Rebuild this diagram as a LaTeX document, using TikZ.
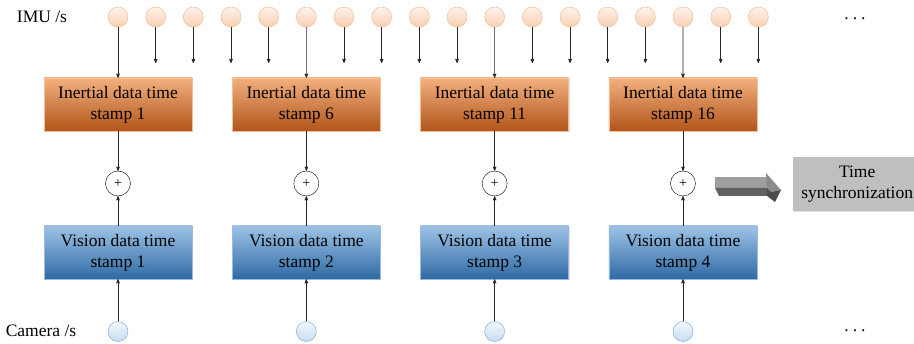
\documentclass[tikz,border=0pt]{standalone}
\usepackage{fontspec}
\setmainfont{Liberation Serif}
\usepackage{xcolor}
\usepackage{tikz}
\usetikzlibrary{arrows}
\usetikzlibrary{shadows}
\definecolor{imuline}{HTML}{F4B183}
\definecolor{imutop}{HTML}{FEF3EB}
\definecolor{imubot}{HTML}{F9CFB2}
\definecolor{camline}{HTML}{6FA3D8}
\definecolor{camtop}{HTML}{F2F7FC}
\definecolor{cambot}{HTML}{C6DCF1}
\definecolor{inline}{HTML}{F4C09A}
\definecolor{intop}{HTML}{F2B07E}
\definecolor{inbot}{HTML}{B2551B}
\definecolor{visline}{HTML}{9DB9DD}
\definecolor{vistop}{HTML}{9DC3E6}
\definecolor{visbot}{HTML}{2F6AA4}
\definecolor{syncfill}{HTML}{BFBFBF}
\tikzset{
    tnode/.style = {align=center, inner sep=0pt, text centered},
    imu/.style = {tnode, circle, draw=imuline, top color=imutop, bottom color=imubot, minimum size=20pt, thin},
    cam/.style = {tnode, circle, draw=camline, top color=camtop, bottom color=cambot, minimum size=20pt, thin},
    plus/.style = {tnode, circle, draw=black, minimum size=25pt, thin, font=\fontsize{14}{14}\selectfont},
    inertial/.style = {tnode, rectangle, draw=inline, top color=intop, bottom color=inbot, minimum width=148pt, minimum height=53pt, font=\fontsize{17.5}{21}\selectfont, drop shadow={shadow xshift=1pt, shadow yshift=-1pt, opacity=0.25}},
    vision/.style = {tnode, rectangle, draw=visline, top color=vistop, bottom color=visbot, minimum width=148pt, minimum height=53pt, font=\fontsize{17.5}{21}\selectfont, drop shadow={shadow xshift=1pt, shadow yshift=-1pt, opacity=0.25}},
    syncbox/.style = {tnode, rectangle, fill=syncfill, minimum width=128pt, minimum height=54pt, font=\fontsize{17.5}{21}\selectfont, drop shadow={shadow xshift=1pt, shadow yshift=-1pt, opacity=0.25}},
    lbl/.style = {tnode, font=\fontsize{17.5}{21}\selectfont},
    link/.style = {->, line width=0.6pt, black!85}
}

\begin{document}
\begin{tikzpicture}[>=stealth', x=1pt, y=-1pt]
    \useasboundingbox (0,0) rectangle (914,344);
    % IMU samples
    \foreach \i in {1,...,18}
        \node [imu] (imu\i) at ({118+37.67*(\i-1)},17) {};
    \foreach \i in {2,3,4,5,7,8,9,10,12,13,14,15,17,18} {
        \path (imu\i) ++(0,46) coordinate (imuend\i);
        \draw [link] (imu\i) -- (imuend\i);
    }
    % stamps
    \foreach \k/\s/\v in {1/1/1, 2/6/2, 3/11/3, 4/16/4} {
        \node [inertial] (in\k) at ({118+188.33*(\k-1)},104.5) {Inertial data time\\stamp \s};
        \node [plus] (plus\k) at ({118+188.33*(\k-1)},183.5) {+};
        \node [vision] (vis\k) at ({118+188.33*(\k-1)},252.5) {Vision data time\\stamp \v};
        \node [cam] (cam\k) at ({118+188.33*(\k-1)},331.5) {};
        \draw [link] (imu\s) -- (in\k.north);
        \draw [link] (in\k) -- (plus\k);
        \draw [link] (vis\k) -- (plus\k);
        \draw [link] (cam\k) -- (vis\k);
    }
    % labels
    \node [lbl] (imulabel) at (42,17) {IMU /s};
    \node [lbl] (camlabel) at (41,331) {Camera /s};
    \node [lbl] (dotsimu) at (855,19) {.\hspace{4pt}.\hspace{4pt}.};
    \node [lbl] (dotscam) at (855,331) {.\hspace{4pt}.\hspace{4pt}.};
    % 3D arrow
    \fill [black!38] (715,177) -- (767,177) -- (767,188) -- (715,188) -- cycle;
    \fill [black!62] (715,188) -- (767,188) -- (767,196) -- (719,196) -- cycle;
    \fill [black!45] (766,173) -- (781,190) -- (771,192) -- (767,188) -- cycle;
    \fill [black!70] (767,188) -- (771,192) -- (781,190) -- (775,202) -- (767,196) -- cycle;
    \node [syncbox, anchor=west] (sync) at (793,184) {Time\\synchronization};
\end{tikzpicture}
\end{document}
